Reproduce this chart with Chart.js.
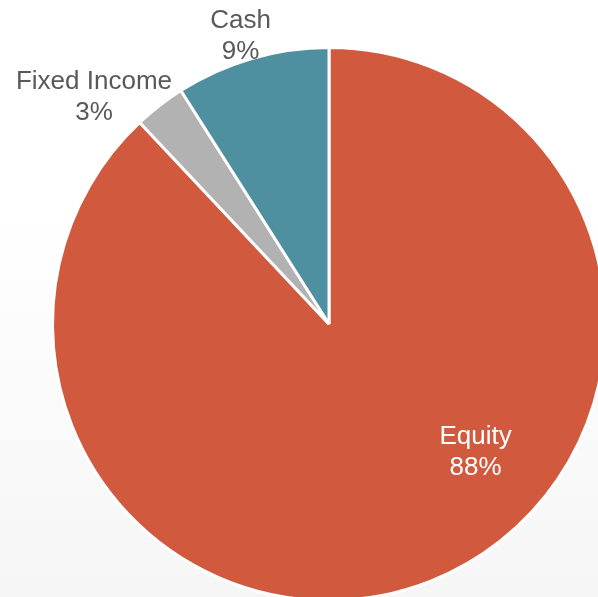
<!DOCTYPE html>
<html>
<head>
<meta charset="utf-8">
<script src="https://cdn.jsdelivr.net/npm/chart.js@4/dist/chart.umd.min.js"></script>
<style>
  html, body { margin:0; padding:0; width:598px; height:597px; overflow:hidden; }
  body { background: linear-gradient(to bottom, #ffffff 0%, #ffffff 35%, #f6f6f6 100%); position:relative; }
  #wrap { position:absolute; left:0; top:0; width:658px; height:648px; }
</style>
</head>
<body>
<div id="wrap"><canvas id="chart"></canvas></div>
<script>
//--------------------------------------------------
// DATA
//--------------------------------------------------
const categories = ["Equity", "Fixed Income", "Cash"];
const shares = [88, 3, 9];
const sliceColors = ["#d15a3e", "#b2b2b2", "#4f90a0"];

// label placement relative to pie centre, in units of the radius
const labelSpots = [
  { dx: 0.53, dy: 0.465, color: "#ffffff" },
  { dx: -0.85, dy: -0.82, color: "#595959" },
  { dx: -0.32, dy: -1.04, color: "#595959" }
];

//--------------------------------------------------
// LABEL PLUGIN
//--------------------------------------------------
const sliceLabels = {
  id: "sliceLabels",
  afterDatasetsDraw(chart){
    const ctx = chart.ctx;
    const meta = chart.getDatasetMeta(0);
    ctx.save();
    ctx.font = "26px 'Liberation Sans', Arial, sans-serif";
    ctx.textAlign = "center";
    ctx.textBaseline = "middle";
    meta.data.forEach((arc, i)=>{
      const r = arc.outerRadius;
      const x = arc.x + labelSpots[i].dx * r;
      const y = arc.y + labelSpots[i].dy * r;
      ctx.fillStyle = labelSpots[i].color;
      ctx.fillText(categories[i], x, y - 15.5);
      ctx.fillText(shares[i] + "%", x, y + 15.5);
    });
    ctx.restore();
  }
};

new Chart(document.getElementById("chart"), {
  type: "pie",
  data: {
    labels: categories,
    datasets: [{
      data: shares,
      backgroundColor: sliceColors,
      borderColor: "#ffffff",
      borderWidth: 3
    }]
  },
  options: {
    responsive: true,
    maintainAspectRatio: false,
    animation: false,
    layout: { padding: { left: 51, right: 51, top: 46, bottom: 46 } },
    plugins: {
      legend: { display: false },
      tooltip: { enabled: false }
    }
  },
  plugins: [sliceLabels]
});
</script>
</body>
</html>
